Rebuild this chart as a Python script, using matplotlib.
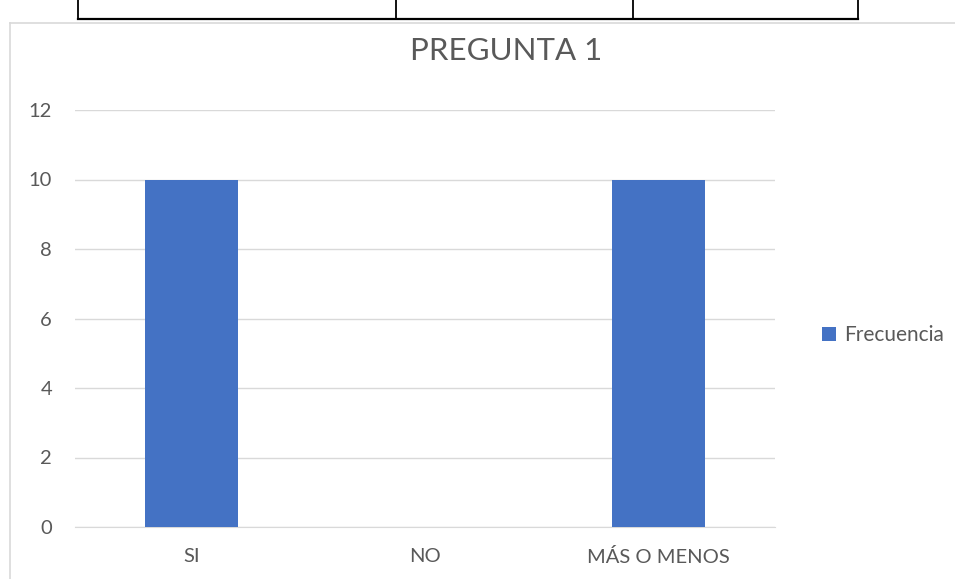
import matplotlib.pyplot as plt
from matplotlib.lines import Line2D

categorias = ["SI", "NO", "MÁS O MENOS"]
frecuencia = [10, 0, 10]
yticks = [0, 2, 4, 6, 8, 10, 12]

W, H = 955, 579
plt.rcParams['font.family'] = ['Lato', 'DejaVu Sans']

fig = plt.figure(figsize=(W / 100, H / 100), dpi=100)

# table border above the chart
tc = "black"
fig.add_artist(Line2D([78 / W, 858 / W], [1 - 19 / H] * 2, color=tc, lw=1.6))
for xv in [78, 396, 633, 858]:
    fig.add_artist(Line2D([xv / W] * 2, [1 - 19 / H, 1.0], color=tc, lw=1.3))

# chart area frame
fc = "#d9d9d9"
fig.add_artist(Line2D([10 / W, 1.0], [1 - 23 / H] * 2, color=fc, lw=1.2))
fig.add_artist(Line2D([10 / W] * 2, [1 - 23 / H, 0.0], color=fc, lw=1.2))

ax = fig.add_axes([75 / W, 1 - 527 / H, 700 / W, (527 - 110) / H])
x = range(len(categorias))
ax.bar(x, frecuencia, width=0.4, color="#4472c4", label="Frecuencia", zorder=3)

ax.set_xlim(-0.5, 2.5)
ax.set_ylim(0, 12)
ax.set_yticks(yticks)
ax.set_xticks(list(x))
ax.set_xticklabels(categorias)
ax.grid(axis="y", color="#d9d9d9", lw=1, zorder=0)
for s in ["top", "right", "left"]:
    ax.spines[s].set_visible(False)
ax.spines["bottom"].set_color("#d9d9d9")
ax.tick_params(length=0, labelsize=14.5, labelcolor="#595959")
ax.tick_params(axis="y", pad=16.5)
ax.tick_params(axis="x", pad=15)

fig.text(506 / W, 1 - 51 / H, "PREGUNTA 1", ha="center", va="center",
         fontsize=22.5, color="#595959")

ax.legend(loc="center left", bbox_to_anchor=(812 / W, 1 - 335 / H),
          bbox_transform=fig.transFigure, frameon=False, fontsize=15,
          labelcolor="#595959", handlelength=0.65, handleheight=0.65,
          handletextpad=0.4, borderpad=0)

fig.savefig("out.png", dpi=100, facecolor="white")
